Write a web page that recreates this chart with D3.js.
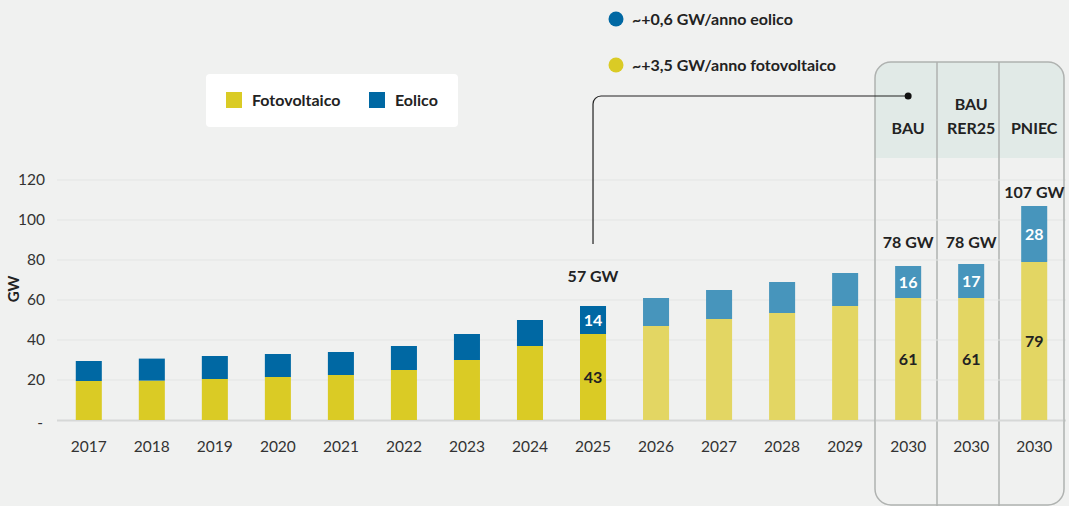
<!DOCTYPE html>
<html>
<head>
<meta charset="utf-8">
<script src="https://cdn.jsdelivr.net/npm/d3@7"></script>
<style>
  body { margin: 0; background: #f0f1f0; font-family: Lato, "Open Sans", sans-serif; }
  svg { display: block; }
</style>
</head>
<body>
<div id="main"></div>
<script>
const categories = ["2017", "2018", "2019", "2020", "2021", "2022", "2023", "2024", "2025",
                    "2026", "2027", "2028", "2029", "2030 BAU", "2030 BAU RER25", "2030 PNIEC"];
const xLabels = ["2017", "2018", "2019", "2020", "2021", "2022", "2023", "2024", "2025",
                 "2026", "2027", "2028", "2029", "2030", "2030", "2030"];
const solar = [19.5, 19.7, 20.5, 21.5, 22.5, 25, 30, 37, 43, 47, 50.5, 53.5, 57, 61, 61, 79];
const wind = [10, 11, 11.5, 11.5, 11.5, 12, 13, 13, 14, 14, 14.5, 15.5, 16.5, 16, 17, 28];
const projected = [false, false, false, false, false, false, false, false, false,
                   true, true, true, true, true, true, true];
const yTicks = [0, 20, 40, 60, 80, 100, 120];
const totalLabels = [
  { cat: "2025", text: "57 GW", value: 57, lift: 24 },
  { cat: "2030 BAU", text: "78 GW", value: 77, lift: 18 },
  { cat: "2030 BAU RER25", text: "78 GW", value: 78, lift: 16 },
  { cat: "2030 PNIEC", text: "107 GW", value: 107, lift: 8 }
];
const segLabels = ["2025", "2030 BAU", "2030 BAU RER25", "2030 PNIEC"];
const scenarios = [
  { cat: "2030 BAU", lines: ["BAU"] },
  { cat: "2030 BAU RER25", lines: ["BAU", "RER25"] },
  { cat: "2030 PNIEC", lines: ["PNIEC"] }
];
const notes = [
  { text: "~+0,6 GW/anno eolico", color: "#0068a3" },
  { text: "~+3,5 GW/anno fotovoltaico", color: "#dacb25" }
];

const colors = {
  solar: "#dacb25", wind: "#0068a3",
  solarLight: "#e3d663", windLight: "#4795bc"
};

const W = 1069, H = 506;
const svg = d3.select("#main").append("svg").attr("width", W).attr("height", H);

const x = d3.scaleBand().domain(categories).range([57.5, 1065.5]).paddingInner(0.587).paddingOuter(0.29);
const y = d3.scaleLinear().domain([0, 120]).range([420, 180]);

// scenario panel
const panelL = 875, panelR = 1064, panelT = 62, panelB = 505;
const panel = svg.append("g");
panel.append("rect")
  .attr("x", panelL).attr("y", panelT).attr("width", panelR - panelL).attr("height", panelB - panelT)
  .attr("rx", 16).attr("fill", "#f0f1f0");
panel.append("path")
  .attr("d", `M${panelL},158 V${panelT + 16} a16,16 0 0 1 16,-16 H${panelR - 16} a16,16 0 0 1 16,16 V158 Z`)
  .attr("fill", "#e1eae7");

// grid
svg.append("g").selectAll("line").data(yTicks.slice(1)).join("line")
  .attr("x1", 57).attr("x2", 1066).attr("y1", d => y(d)).attr("y2", d => y(d))
  .attr("stroke", "#e3e5e4").attr("stroke-width", 1);
svg.append("line").attr("x1", 57).attr("x2", 1066).attr("y1", y(0) + 0.5).attr("y2", y(0) + 0.5)
  .attr("stroke", "#d6d8d7").attr("stroke-width", 2);

panel.raise();
panel.append("rect")
  .attr("x", panelL).attr("y", panelT).attr("width", panelR - panelL).attr("height", panelB - panelT)
  .attr("rx", 16).attr("fill", "none").attr("stroke", "#afb2b0").attr("stroke-width", 1.5);
[937, 999].forEach(px => {
  panel.append("line").attr("x1", px).attr("x2", px).attr("y1", panelT).attr("y2", H)
    .attr("stroke", "#afb2b0").attr("stroke-width", 1.5);
});
svg.selectAll("g > line").filter(function() { return this.parentNode !== panel.node(); }).raise;
// redraw gridlines inside panel body so they sit above the panel fill
svg.append("g").selectAll("line").data(yTicks.slice(1)).join("line")
  .attr("x1", panelL + 1).attr("x2", panelR - 1).attr("y1", d => y(d)).attr("y2", d => y(d))
  .attr("stroke", "#e3e5e4").attr("stroke-width", 1)
  .filter(d => y(d) < 158).remove();
svg.append("line").attr("x1", panelL + 1).attr("x2", panelR - 1).attr("y1", y(0) + 0.5).attr("y2", y(0) + 0.5)
  .attr("stroke", "#d6d8d7").attr("stroke-width", 2);

// y axis
const yAxis = d3.axisLeft(y).tickValues(yTicks).tickSize(0).tickPadding(0)
  .tickFormat(d => d === 0 ? "-" : d);
const yg = svg.append("g").attr("transform", "translate(45,0)").call(yAxis);
yg.select(".domain").remove();
yg.selectAll("text").attr("font-size", 15.5).attr("fill", "#333").attr("font-family", "Lato");
yg.selectAll("text").filter(d => d === 0).attr("dy", "0.5em").attr("x", -2);

svg.append("text").attr("transform", "translate(19,289) rotate(-90)")
  .attr("text-anchor", "middle").attr("font-size", 15).attr("font-weight", "bold")
  .attr("fill", "#222").text("GW");

// x axis
const xAxis = d3.axisBottom(x).tickSize(0).tickPadding(0).tickFormat((d, i) => xLabels[i]);
const xg = svg.append("g").attr("transform", "translate(0,441)").call(xAxis);
xg.select(".domain").remove();
xg.selectAll("text").attr("font-size", 15.5).attr("fill", "#333").attr("font-family", "Lato");

// bars
const bars = svg.append("g");
categories.forEach((c, i) => {
  bars.append("rect")
    .attr("x", x(c)).attr("width", x.bandwidth())
    .attr("y", y(solar[i])).attr("height", y(0) - y(solar[i]))
    .attr("fill", projected[i] ? colors.solarLight : colors.solar);
  bars.append("rect")
    .attr("x", x(c)).attr("width", x.bandwidth())
    .attr("y", y(solar[i] + wind[i])).attr("height", y(0) - y(wind[i]))
    .attr("fill", projected[i] ? colors.windLight : colors.wind);
});

// segment labels
segLabels.forEach(c => {
  const i = categories.indexOf(c);
  const cx = x(c) + x.bandwidth() / 2;
  svg.append("text").attr("x", cx).attr("y", y(solar[i] / 2)).attr("dy", "0.35em")
    .attr("text-anchor", "middle").attr("font-size", 16).attr("font-weight", "bold")
    .attr("fill", "#222").text(Math.round(solar[i]));
  svg.append("text").attr("x", cx).attr("y", y(solar[i] + wind[i] / 2)).attr("dy", "0.35em")
    .attr("text-anchor", "middle").attr("font-size", 16).attr("font-weight", "bold")
    .attr("fill", "#fff").text(Math.round(wind[i]));
});

// total labels
totalLabels.forEach(d => {
  svg.append("text").attr("x", x(d.cat) + x.bandwidth() / 2).attr("y", y(d.value) - d.lift)
    .attr("text-anchor", "middle").attr("font-size", 16).attr("font-weight", "bold")
    .attr("fill", "#222").text(d.text);
});

// scenario headers
scenarios.forEach(s => {
  const cx = x(s.cat) + x.bandwidth() / 2;
  s.lines.forEach((t, j) => {
    svg.append("text").attr("x", cx).attr("y", 134 - (s.lines.length - 1 - j) * 24)
      .attr("text-anchor", "middle").attr("font-size", 16).attr("font-weight", "bold")
      .attr("fill", "#222").text(t);
  });
});

// callout
const cx25 = x("2025") + x.bandwidth() / 2;
const cxBau = x("2030 BAU") + x.bandwidth() / 2;
svg.append("path")
  .attr("d", `M${cx25},244 V104 a8,8 0 0 1 8,-8 H${cxBau}`)
  .attr("fill", "none").attr("stroke", "#222").attr("stroke-width", 1.2);
svg.append("circle").attr("cx", cxBau).attr("cy", 96).attr("r", 3.5).attr("fill", "#111");

// top notes
notes.forEach((n, i) => {
  svg.append("circle").attr("cx", 616).attr("cy", 19 + i * 46).attr("r", 7.5).attr("fill", n.color);
  svg.append("text").attr("x", 632).attr("y", 19 + i * 46).attr("dy", "0.35em")
    .attr("font-size", 16).attr("font-weight", "bold").attr("fill", "#222").text(n.text);
});

// legend
const lg = svg.append("g");
lg.append("rect").attr("x", 206).attr("y", 74).attr("width", 252).attr("height", 53)
  .attr("rx", 4).attr("fill", "#fff");
[["Fotovoltaico", colors.solar, 226], ["Eolico", colors.wind, 369]].forEach(([t, c, lx]) => {
  lg.append("rect").attr("x", lx).attr("y", 92).attr("width", 16).attr("height", 16).attr("fill", c);
  lg.append("text").attr("x", lx + 26).attr("y", 100).attr("dy", "0.35em")
    .attr("font-size", 16).attr("font-weight", "bold").attr("fill", "#222").text(t);
});
</script>
</body>
</html>
